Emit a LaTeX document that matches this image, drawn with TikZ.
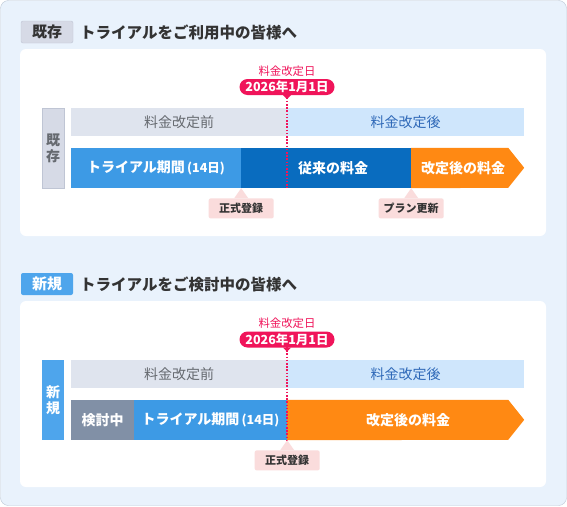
\documentclass[tikz,border=0pt]{standalone}
\usepackage{fontspec}
\setmainfont{Noto Sans CJK JP}
\usepackage{tikz}
\usetikzlibrary{positioning}
\definecolor{pagebg}{HTML}{E9F2FC}
\definecolor{pageline}{HTML}{BCC8D6}
\definecolor{headtext}{HTML}{333333}
\definecolor{taggray}{HTML}{D6DAE6}
\definecolor{tagline}{HTML}{BFC5D4}
\definecolor{tagblue}{HTML}{4EA5EC}
\definecolor{beforebg}{HTML}{DFE4EE}
\definecolor{beforetext}{HTML}{666A70}
\definecolor{afterbg}{HTML}{CFE6FC}
\definecolor{aftertext}{HTML}{2F69B8}
\definecolor{trialblue}{HTML}{3D9AE5}
\definecolor{oldblue}{HTML}{096CBF}
\definecolor{planorange}{HTML}{FF8913}
\definecolor{waitgray}{HTML}{8190A6}
\definecolor{alertred}{HTML}{F0145A}
\definecolor{calloutbg}{HTML}{FADCDC}
\tikzset{
  bar/.style={inner sep=0pt, minimum height=40pt, text=white, font=\bfseries\fontsize{14}{16}\selectfont},
  band/.style={inner sep=0pt, minimum height=28pt, font=\fontsize{14}{16}\selectfont},
  tagbox/.style={rounded corners=2pt, minimum width=52pt, minimum height=22pt, inner sep=0pt, font=\bfseries\fontsize{15}{17}\selectfont},
  heading/.style={anchor=west, inner sep=0pt, text=headtext, font=\bfseries\fontsize{15.5}{17}\selectfont},
  sidebox/.style={minimum width=22pt, minimum height=80pt, inner sep=0pt, align=center, font=\bfseries\fontsize{14}{16}\selectfont},
  datepill/.style={fill=alertred, text=white, rounded corners=8pt, minimum width=95pt, minimum height=16pt, inner sep=0pt, font=\bfseries\fontsize{12.5}{13}\selectfont},
  datelabel/.style={inner sep=0pt, text=alertred, font=\fontsize{11.4}{12}\selectfont},
  callout/.style={fill=calloutbg, rounded corners=2pt, minimum width=65pt, minimum height=20pt, inner sep=0pt, text=headtext, font=\bfseries\fontsize{11}{12}\selectfont},
  cutline/.style={alertred, line width=1.6pt, dash pattern=on 1.6pt off 1.6pt},
}
\newcommand{\trialtext}{トライアル期間\,{\fontsize{12.5}{14}\selectfont(14日)}}
\begin{document}
\begin{tikzpicture}[x=1pt, y=-1pt]
\useasboundingbox (0,0) rectangle (567,506);
% background panel
\draw[fill=pagebg, draw=pageline, rounded corners=8pt] (0.5,0.5) rectangle (566.5,505.5);
\fill[white, rounded corners=6pt] (20,49) rectangle (546,236);
\fill[white, rounded corners=6pt] (20,301) rectangle (546,487);

% --- existing users
\node[tagbox, fill=taggray, draw=tagline, text=headtext] (tagA) at (47,32) {既存};
\node[heading] (headA) at (80,32) {トライアルをご利用中の皆様へ};
\node[datelabel] (dayA) at (287,71) {料金改定日};
\node[datepill] (pillA) at (287,87) {2026年1月1日};
\fill[alertred] ([xshift=-4pt]pillA.south) -- ([xshift=4pt]pillA.south) -- ++(-4,4) -- cycle;
\node[sidebox, fill=taggray, draw=tagline, text=beforetext] (sideA) at (53,148) {既\\存};
\node[band, fill=beforebg, text=beforetext, minimum width=216pt] (beforeA) at (179,122) {料金改定前};
\node[band, fill=afterbg, text=aftertext, minimum width=237pt] (afterA) at (405.5,122) {料金改定後};
\node[bar, fill=trialblue, minimum width=170pt] (trialA) at (156,168) {\trialtext};
\node[bar, fill=oldblue, minimum width=170pt] (existA) at (326,168) {};
\node[bar] at (333,168) {従来の料金};
\fill[planorange] (existA.north east) -- ++(97,0) -- ++(16,20) -- ++(-16,20) -- (existA.south east) -- cycle;
\node[bar] (newA) at (463,168) {改定後の料金};
\coordinate (endA) at (287,188);
\draw[cutline] ([yshift=4pt]pillA.south) -- (endA);
\node[callout, below=10pt of trialA.south east] (regA) {正式登録};
\fill[calloutbg] ([xshift=-7pt]regA.north) -- (trialA.south east) -- ([xshift=7pt]regA.north) -- cycle;
\node[callout, below=10pt of existA.south east] (renewA) {プラン更新};
\fill[calloutbg] ([xshift=-7pt]renewA.north) -- (existA.south east) -- ([xshift=7pt]renewA.north) -- cycle;

% --- new users
\node[tagbox, fill=tagblue, text=white] (tagB) at (47,284) {新規};
\node[heading] (headB) at (80,284) {トライアルをご検討中の皆様へ};
\node[datelabel] (dayB) at (287,323) {料金改定日};
\node[datepill] (pillB) at (287,339.5) {2026年1月1日};
\fill[alertred] ([xshift=-4pt]pillB.south) -- ([xshift=4pt]pillB.south) -- ++(-4,4) -- cycle;
\node[sidebox, fill=tagblue, text=white] (sideB) at (53,400) {新\\規};
\node[band, fill=beforebg, text=beforetext, minimum width=216pt] (beforeB) at (179,374) {料金改定前};
\node[band, fill=afterbg, text=aftertext, minimum width=237pt] (afterB) at (405.5,374) {料金改定後};
\node[bar, fill=waitgray, minimum width=63pt] (waitB) at (102.5,420) {検討中};
\node[bar, fill=trialblue, minimum width=153pt] (trialB) at (210.5,420) {\trialtext};
\fill[planorange] (trialB.north east) -- ++(221,0) -- ++(16,20) -- ++(-16,20) -- (trialB.south east) -- cycle;
\node[bar] (newB) at (408,420) {改定後の料金};
\coordinate (endB) at (287,440);
\draw[cutline] ([yshift=4pt]pillB.south) -- (endB);
\node[callout, below=10pt of trialB.south east] (regB) {正式登録};
\fill[calloutbg] ([xshift=-7pt]regB.north) -- (trialB.south east) -- ([xshift=7pt]regB.north) -- cycle;
\end{tikzpicture}
\end{document}
